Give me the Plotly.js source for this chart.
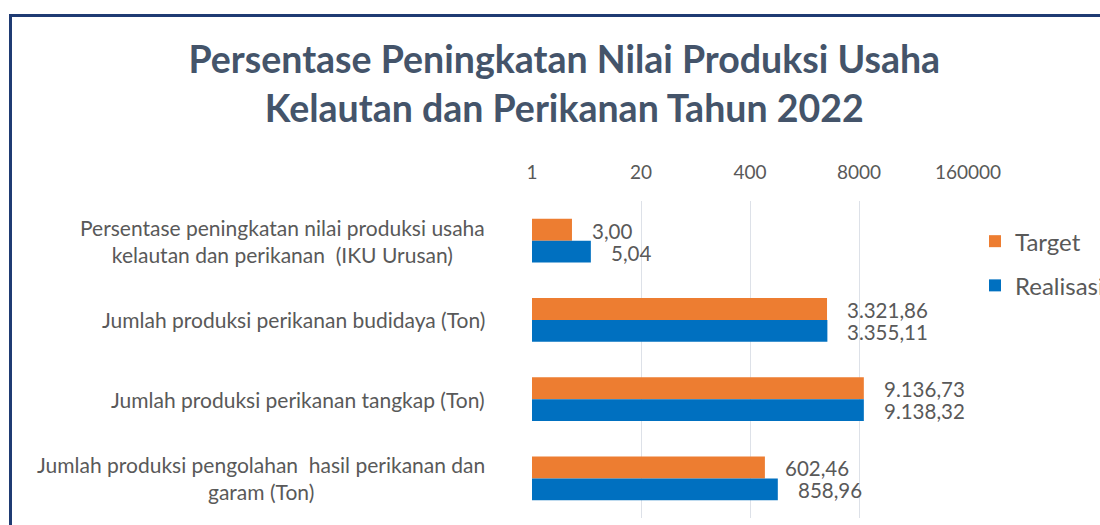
<!DOCTYPE html>
<html><head><meta charset="utf-8">
<script src="https://cdn.plot.ly/plotly-3.0.1.min.js"></script>
<style>
body{margin:0;overflow:hidden;background:#fff}
#frame{position:absolute;left:9px;top:14px;width:1200px;height:600px;border-left:3px solid #1F3B73;border-top:3px solid #1F3B73;pointer-events:none}
</style>
</head><body>
<div id="chart" style="width:1100px;height:525px"></div>
<div id="frame"></div>
<script>
const categories = ["IKU", "Budidaya", "Tangkap", "Pengolahan"];
const categoryLabels = [
  "Persentase peningkatan nilai produksi usaha<br>kelautan dan perikanan  (IKU Urusan)",
  "Jumlah produksi perikanan budidaya (Ton)",
  "Jumlah produksi perikanan tangkap (Ton)",
  "Jumlah produksi pengolahan  hasil perikanan dan<br>garam (Ton)"
];
const target = [3.00, 3321.86, 9136.73, 602.46];
const realisasi = [5.04, 3355.11, 9138.32, 858.96];
const tickVals = [1, 20, 400, 8000, 160000];
const tickText = ["1", "20", "400", "8000", "160000"];

function fmt(v){
  const parts = v.toFixed(2).split(".");
  const intPart = parts[0].replace(/\B(?=(\d{3})+(?!\d))/g, ".");
  return intPart + "," + parts[1];
}

const FONT = "Lato, 'Open Sans', sans-serif";
const TXT = "#595959";

const traces = [
  {type:"bar", orientation:"h", name:"Target", y:categories, x:target,
   marker:{color:"#ED7D31"}, legendgroup:"a", hoverinfo:"x"},
  {type:"bar", orientation:"h", name:"Realisasi", y:categories, x:realisasi,
   marker:{color:"#0070C0"}, legendgroup:"b", hoverinfo:"x"}
];

const annotations = [];
categories.forEach((c,i)=>{
  annotations.push({xref:"paper", yref:"y", x:-0.103, y:c, xanchor:"right", yanchor:"middle",
    align:"center", text:categoryLabels[i], showarrow:false, font:{family:FONT, size:21, color:TXT}});
  annotations.push({xref:"x", yref:"y", x:Math.log10(target[i]), y:c, xanchor:"left", yanchor:"middle",
    xshift:18, yshift:10, text:fmt(target[i]), showarrow:false, font:{family:FONT, size:20.5, color:TXT}});
  annotations.push({xref:"x", yref:"y", x:Math.log10(realisasi[i]), y:c, xanchor:"left", yanchor:"middle",
    xshift:18, yshift:-12, text:fmt(realisasi[i]), showarrow:false, font:{family:FONT, size:20.5, color:TXT}});
});

const layout = {
  width:1100, height:525,
  margin:{l:532, r:132, t:201, b:7, autoexpand:false},
  paper_bgcolor:"#fff", plot_bgcolor:"#fff",
  title:{text:"Persentase Peningkatan Nilai Produksi Usaha<br>Kelautan dan Perikanan Tahun 2022",
    font:{family:FONT, size:37.5, color:"#44546A", weight:"bold"}, x:0.513, xanchor:"center", y:0.861, yanchor:"middle"},
  barmode:"group", bargap:0.447, bargroupgap:0,
  xaxis:{type:"log", side:"top", range:[0, Math.log10(160000)], tickvals:tickVals, ticktext:tickText,
    showgrid:true, gridcolor:"#DDE1E8", gridwidth:1, zeroline:false, showline:false,
    ticks:"outside", ticklen:13, tickcolor:"rgba(0,0,0,0)",
    tickfont:{family:FONT, size:19, color:TXT}, fixedrange:true},
  yaxis:{type:"category", autorange:"reversed", showticklabels:false, showgrid:false, zeroline:false, showline:false, fixedrange:true},
  showlegend:true,
  legend:{x:1.016, y:0.943, xanchor:"left", yanchor:"top", traceorder:"grouped", tracegroupgap:10,
    font:{family:FONT, size:24, color:TXT}, bgcolor:"rgba(0,0,0,0)"},
  annotations:annotations
};

Plotly.newPlot("chart", traces, layout, {displayModeBar:false, staticPlot:true});
</script>
</body></html>
